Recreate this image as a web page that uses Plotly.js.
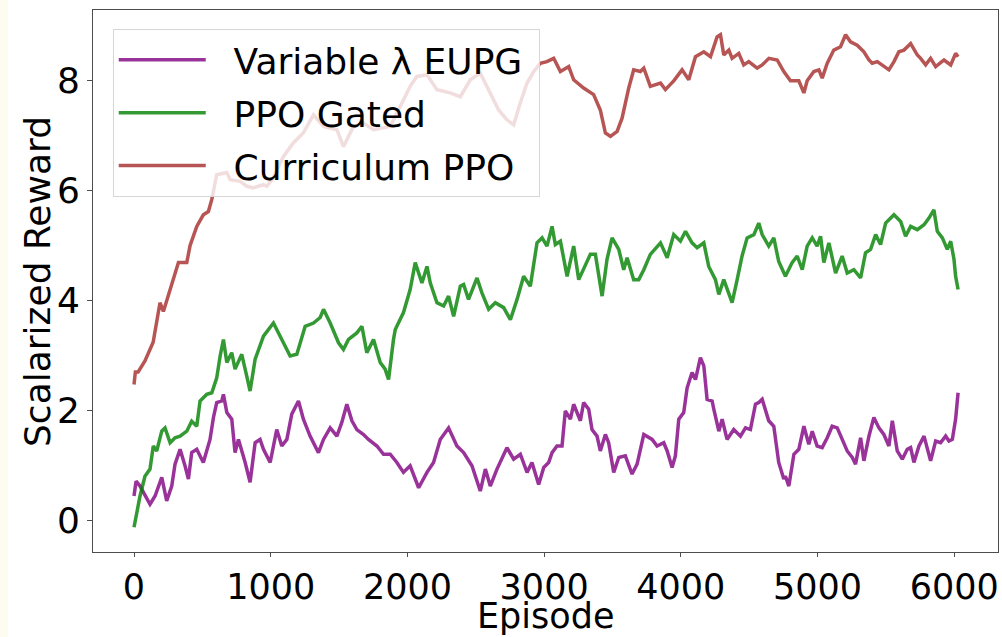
<!DOCTYPE html>
<html>
<head>
<meta charset="utf-8">
<script src="https://cdn.plot.ly/plotly-3.0.1.min.js"></script>
<style>
  html, body { margin: 0; padding: 0; background: #ffffff; }
  #chart { width: 1002px; height: 637px; }
</style>
</head>
<body>
<div id="chart"></div>
<script>
// ---- Data ----
const seriesNames = ["Variable λ EUPG", "PPO Gated", "Curriculum PPO"];
const xAxisTitle = "Episode";
const yAxisTitle = "Scalarized Reward";

const eupgEpisodes = [0,15,44,68,117,154,203,239,276,300,337,373,398,422,459,507,556,581,605,642,654,679,715,739,764,813,849,886,922,947,996,1044,1081,1118,1154,1203,1239,1288,1349,1386,1435,1484,1520,1557,1594,1630,1679,1715,1777,1825,1874,1923,1971,2020,2082,2143,2191,2240,2301,2362,2411,2472,2533,2570,2606,2655,2728,2777,2826,2875,2911,2960,2997,3033,3058,3094,3131,3155,3192,3216,3265,3289,3326,3350,3387,3411,3448,3472,3509,3546,3594,3643,3680,3729,3790,3826,3875,3900,3936,3960,3985,4021,4046,4082,4107,4143,4168,4192,4229,4241,4278,4302,4338,4387,4436,4473,4509,4546,4570,4595,4643,4680,4716,4753,4765,4790,4827,4863,4900,4936,4961,4997,5034,5071,5107,5144,5180,5217,5254,5278,5315,5339,5376,5412,5449,5485,5522,5547,5583,5620,5656,5681,5705,5742,5779,5803,5827,5864,5900,5937,5961,5986,6010,6028];
const eupgReward = [0.44,0.71,0.62,0.50,0.29,0.44,0.78,0.35,0.62,1.02,1.29,0.99,0.75,1.23,1.29,1.05,1.47,1.87,2.14,2.17,2.29,1.96,1.84,1.23,1.47,1.05,0.69,1.41,1.47,1.29,1.05,1.65,1.35,1.47,1.93,2.17,1.84,1.53,1.23,1.47,1.68,1.53,1.78,2.11,1.81,1.65,1.56,1.47,1.35,1.20,1.20,1.05,0.87,0.99,0.59,0.87,1.05,1.47,1.68,1.35,1.23,0.99,0.53,0.93,0.62,0.93,1.32,1.11,1.20,0.87,1.05,0.65,0.96,1.05,1.23,1.35,1.35,1.99,1.84,2.11,1.81,2.14,2.02,1.65,1.53,1.26,1.56,1.41,0.87,1.14,1.17,0.84,1.02,1.56,1.47,1.35,1.41,1.26,0.96,1.17,1.84,1.96,2.41,2.69,2.56,2.96,2.81,2.20,2.17,2.02,1.62,1.84,1.47,1.65,1.53,1.68,1.65,2.11,2.14,2.20,1.81,1.71,1.05,0.75,0.80,0.62,1.20,1.29,1.71,1.38,1.62,1.35,1.32,1.50,1.71,1.68,1.47,1.26,1.14,1.02,1.50,1.08,1.53,1.87,1.68,1.56,1.35,1.81,1.26,1.11,1.29,1.32,1.05,1.35,1.53,1.29,1.08,1.44,1.41,1.53,1.44,1.47,1.84,2.32];

const gatedEpisodes = [0,20,44,80,117,141,166,203,227,264,300,337,386,422,459,483,532,569,605,630,654,679,715,739,788,825,849,886,947,1020,1069,1142,1191,1252,1313,1362,1386,1435,1496,1532,1569,1630,1667,1703,1752,1801,1837,1862,1898,1911,1971,2020,2057,2082,2106,2143,2167,2216,2265,2301,2338,2387,2411,2447,2509,2545,2594,2643,2704,2753,2802,2850,2899,2948,2985,3021,3058,3082,3119,3168,3216,3253,3289,3338,3375,3424,3460,3497,3546,3582,3607,3655,3692,3729,3777,3851,3900,3948,3997,4034,4082,4119,4168,4204,4253,4278,4314,4351,4375,4412,4448,4485,4534,4570,4595,4643,4680,4716,4765,4814,4851,4888,4924,4961,4997,5022,5046,5083,5132,5180,5217,5266,5315,5351,5388,5425,5461,5498,5534,5559,5608,5644,5681,5730,5779,5815,5851,5876,5913,5949,5974,5998,6010,6028];
const gatedReward = [-0.13,0.14,0.44,0.80,0.93,1.35,1.26,1.62,1.68,1.41,1.50,1.53,1.62,1.80,1.71,2.17,2.29,2.32,2.59,2.99,3.29,2.87,3.05,2.75,3.02,2.62,2.35,2.93,3.35,3.59,3.35,2.99,3.02,3.53,3.59,3.69,3.84,3.59,3.23,3.11,3.29,3.41,3.53,3.05,3.29,2.87,2.75,2.56,3.29,3.47,3.78,4.20,4.69,4.50,4.32,4.62,4.32,3.96,3.90,4.08,3.71,4.26,4.29,4.02,4.41,4.14,3.84,3.96,3.87,3.65,4.02,4.44,4.26,5.05,5.14,4.99,5.35,5.02,5.08,4.44,4.99,4.38,4.59,4.84,4.84,4.08,4.75,5.14,4.93,4.56,4.78,4.38,4.38,4.56,4.84,5.05,4.78,5.20,5.08,5.26,5.05,4.96,5.05,4.62,4.38,4.11,4.38,4.14,3.96,4.38,4.81,5.14,5.20,5.41,5.20,4.99,5.14,4.71,4.44,4.69,4.81,4.56,4.99,5.14,4.99,5.17,4.69,5.05,4.50,4.81,4.50,4.56,4.41,4.87,4.93,5.20,5.02,5.41,5.50,5.56,5.44,5.17,5.35,5.29,5.38,5.50,5.65,5.26,5.14,4.93,5.08,4.75,4.44,4.20];

const currEpisodes = [0,10,30,80,140,190,215,264,325,386,410,459,507,544,569,605,679,703,776,825,872,947,971,1020,1092,1165,1191,1238,1313,1360,1386,1484,1532,1605,1679,1752,1874,1947,2020,2069,2143,2216,2313,2387,2460,2533,2606,2667,2728,2777,2826,2875,2924,2972,3020,3070,3119,3180,3216,3289,3362,3411,3448,3485,3534,3570,3619,3655,3704,3729,3777,3851,3887,3948,4009,4058,4107,4168,4217,4265,4290,4314,4351,4375,4424,4460,4497,4558,4595,4644,4705,4753,4802,4863,4900,4924,4973,5010,5034,5071,5119,5168,5205,5241,5290,5339,5376,5400,5437,5485,5522,5559,5595,5632,5681,5730,5754,5791,5827,5864,5925,5974,6010,6028];
const currReward = [2.47,2.70,2.70,2.90,3.24,3.96,3.80,4.20,4.69,4.69,5.00,5.35,5.56,5.62,5.84,6.29,6.33,6.20,6.17,6.08,6.05,6.11,6.08,6.24,6.62,6.87,6.93,7.05,7.38,7.23,7.17,7.11,6.80,7.17,7.23,7.11,7.17,7.53,7.90,8.08,8.11,7.84,7.78,7.71,8.02,8.14,7.78,7.47,7.29,7.20,7.60,7.96,8.17,8.32,8.35,8.41,8.17,8.26,8.02,7.87,7.75,7.47,7.05,6.99,7.08,7.32,7.87,8.20,8.17,8.23,7.90,7.96,7.84,8.00,8.20,8.02,8.44,8.53,8.44,8.80,8.84,8.47,8.56,8.41,8.50,8.29,8.35,8.23,8.29,8.41,8.38,8.17,8.00,8.00,7.78,8.00,8.17,8.20,8.05,8.32,8.56,8.62,8.84,8.71,8.65,8.53,8.38,8.32,8.35,8.26,8.20,8.35,8.53,8.56,8.68,8.47,8.41,8.29,8.41,8.26,8.38,8.29,8.50,8.44];

const xTickVals = [0,1000,2000,3000,4000,5000,6000];
const xTickText = ["0","1000","2000","3000","4000","5000","6000"];
const yTickVals = [0,2,4,6,8];
const yTickText = ["0","2","4","6","8"];

// ---- Chart ----
const FONT = "DejaVu Sans, Verdana, sans-serif";
const lineW = 3.5;
const PAD = "\u00a0\u00a0";

const traces = [
  {x: eupgEpisodes, y: eupgReward, name: PAD + seriesNames[0] + "\u00a0", type: "scatter", mode: "lines",
   line: {color: "rgba(128,0,128,0.8)", width: lineW}, legendgroup: "a"},
  {x: gatedEpisodes, y: gatedReward, name: PAD + seriesNames[1], type: "scatter", mode: "lines",
   line: {color: "rgba(0,128,0,0.8)", width: lineW}, legendgroup: "b"},
  {x: currEpisodes, y: currReward, name: PAD + seriesNames[2], type: "scatter", mode: "lines",
   line: {color: "rgba(165,42,42,0.8)", width: lineW}, legendgroup: "c"}
];

const layout = {
  width: 1002, height: 637,
  paper_bgcolor: "#ffffff", plot_bgcolor: "#ffffff",
  margin: {l: 93, r: 4, t: 10, b: 85, pad: 0},
  font: {family: FONT, size: 36, color: "#000000"},
  showlegend: true,
  legend: {
    x: 0.0218, y: 0.965, xanchor: "left", yanchor: "top",
    bgcolor: "rgba(255,255,255,0.8)", bordercolor: "#d6d6d6", borderwidth: 1,
    font: {family: FONT, size: 36, color: "#000000"},
    itemwidth: 87, traceorder: "grouped", tracegroupgap: 3
  },
  xaxis: {
    range: [-300, 6320], tickmode: "array", tickvals: xTickVals, ticktext: xTickText,
    showgrid: false, zeroline: false, showline: true, linecolor: "#4d4d4d", linewidth: 1, mirror: true,
    ticks: "outside", ticklen: 4, tickwidth: 1, tickcolor: "#4d4d4d",
    tickfont: {family: FONT, size: 35, color: "#000000"},
    automargin: false
  },
  yaxis: {
    range: [-0.58, 9.29], tickmode: "array", tickvals: yTickVals, ticktext: yTickText,
    showgrid: false, zeroline: false, showline: true, linecolor: "#4d4d4d", linewidth: 1, mirror: true,
    ticks: "outside", ticklen: 5, tickwidth: 1, tickcolor: "#4d4d4d",
    tickfont: {family: FONT, size: 36, color: "#000000"},
    automargin: false
  },
  annotations: [
    {text: xAxisTitle, xref: "paper", yref: "paper", x: 0.5, y: -0.119, xanchor: "center", yanchor: "middle",
     showarrow: false, borderpad: 0, font: {family: FONT, size: 35, color: "#000000"}},
    {text: yAxisTitle, xref: "paper", yref: "paper", x: -0.0619, y: 0.5, xanchor: "center", yanchor: "middle",
     textangle: -90, showarrow: false, borderpad: 0, font: {family: FONT, size: 36, color: "#000000"}}
  ],
  shapes: [
    {type: "rect", xref: "paper", yref: "paper", x0: -0.11, x1: -0.094, y0: -0.2, y1: 1.1,
     fillcolor: "#fcfcf1", line: {width: 0}, layer: "below"}
  ]
};

Plotly.newPlot("chart", traces, layout, {displayModeBar: false, staticPlot: true});
</script>
</body>
</html>
